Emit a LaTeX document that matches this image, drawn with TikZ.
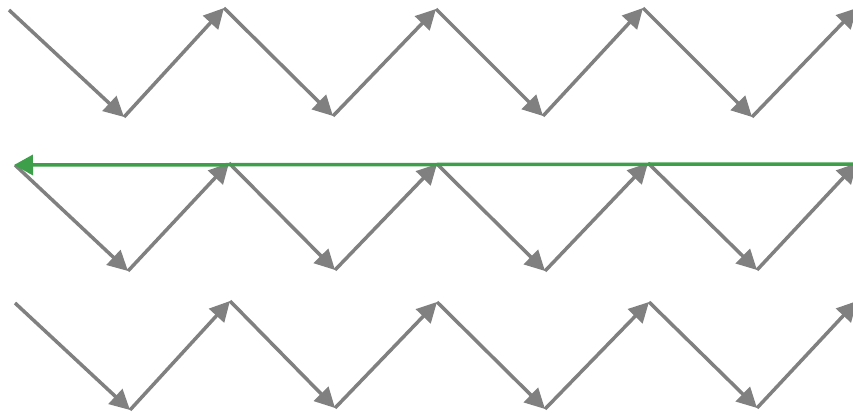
\documentclass[tikz,border=0pt]{standalone}
\usetikzlibrary{arrows.meta}
\definecolor{zgray}{HTML}{808080}
\definecolor{zgreen}{HTML}{3E9F4A}
\begin{document}
\begin{tikzpicture}[x=1pt,y=-1pt,
  zz/.style={draw=zgray,line width=3.5pt,-{Triangle[length=20pt,width=20pt]}},
  gr/.style={draw=zgreen,line width=3.5pt,-{Triangle[length=19pt,width=20pt]}}]
\useasboundingbox (0,0) rectangle (853,414);
% row 1
\coordinate (a0) at (9,10);
\coordinate (a1) at (124,117);
\coordinate (a2) at (224,8);
\coordinate (a3) at (333,116);
\coordinate (a4) at (436,9);
\coordinate (a5) at (543,116);
\coordinate (a6) at (643,8);
\coordinate (a7) at (752,117);
\coordinate (a8) at (857,8);
% row 2
\coordinate (b0) at (15,165);
\coordinate (b1) at (128,271);
\coordinate (b2) at (229,163);
\coordinate (b3) at (335,270);
\coordinate (b4) at (437,164);
\coordinate (b5) at (545,271);
\coordinate (b6) at (648,163);
\coordinate (b7) at (757,270);
\coordinate (b8) at (857,163);
% row 3
\coordinate (c0) at (15,303);
\coordinate (c1) at (130,410);
\coordinate (c2) at (230,301);
\coordinate (c3) at (335,408);
\coordinate (c4) at (437,302);
\coordinate (c5) at (545,409);
\coordinate (c6) at (649,302);
\coordinate (c7) at (757,408);
\coordinate (c8) at (857,301);
% green
\coordinate (g0) at (860,164);
\coordinate (g1) at (14,165);
\foreach \r in {a,b,c}{
  \foreach \i [evaluate=\i as \j using int(\i+1)] in {0,...,7}{
    \draw[zz] (\r\i) -- (\r\j);
  }
}
\draw[gr] (g0) -- (g1);
\end{tikzpicture}
\end{document}
